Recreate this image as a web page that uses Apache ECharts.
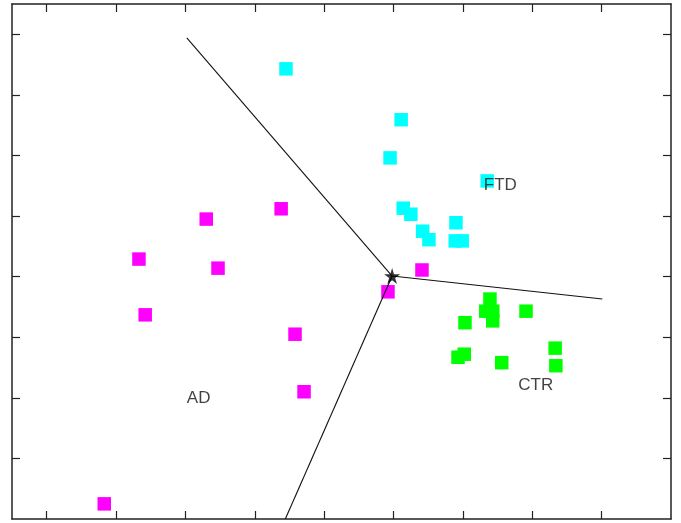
<!DOCTYPE html>
<html>
<head>
<meta charset="utf-8">
<script src="https://cdn.jsdelivr.net/npm/echarts@6/dist/echarts.min.js"></script>
<style>html,body{margin:0;padding:0;background:#fff;}#c{width:681px;height:523px;}</style>
</head>
<body>
<div id="c"></div>
<script>
const xTicks = [0, 1, 2, 3, 4, 5, 6, 7, 8];
const yTicks = [1, 2, 3, 4, 5, 6, 7, 8];

const ftdPoints = [
  [3.45, 7.43], [5.11, 6.59], [4.95, 5.96], [5.14, 5.13], [5.25, 5.03],
  [5.42, 4.75], [5.51, 4.61], [5.90, 4.89], [5.89, 4.59], [5.99, 4.59],
  [6.35, 5.58]
];
const ctrPoints = [
  [6.39, 3.63], [6.33, 3.43], [6.43, 3.43], [6.43, 3.27], [6.03, 3.24],
  [6.91, 3.43], [6.02, 2.72], [5.93, 2.67], [6.56, 2.58], [7.33, 2.82],
  [7.34, 2.53]
];
const adPoints = [
  [2.30, 4.95], [3.38, 5.12], [1.33, 4.29], [2.47, 4.14], [1.42, 3.37],
  [3.58, 3.05], [3.71, 2.10], [5.41, 4.11], [4.92, 3.75], [0.83, 0.25]
];
const center = [4.98, 4.01];
const boundaryEnds = [[2.02, 7.94], [8.01, 3.63], [3.44, 0]];
const classLabels = [
  { name: 'FTD', value: [6.54, 5.50] },
  { name: 'AD', value: [2.19, 2.00] },
  { name: 'CTR', value: [7.05, 2.20] }
];

const chart = echarts.init(document.getElementById('c'), null, { renderer: 'canvas' });

const frameLine = { show: true, onZero: false, lineStyle: { color: '#222', width: 1.5 } };
function xAx(pos) {
  return {
    type: 'value', position: pos, min: -0.5, max: 9,
    axisLine: frameLine,
    axisTick: { show: true, inside: true, length: 8, customValues: xTicks, lineStyle: { color: '#222', width: 1.2 } },
    axisLabel: { show: false, customValues: xTicks },
    splitLine: { show: false }
  };
}
function yAx(pos) {
  return {
    type: 'value', position: pos, min: 0, max: 8.5,
    axisLine: frameLine,
    axisTick: { show: true, inside: true, length: 8, customValues: yTicks, lineStyle: { color: '#222', width: 1.2 } },
    axisLabel: { show: false, customValues: yTicks },
    splitLine: { show: false }
  };
}

const sq = 13.5;
const series = [
  { type: 'scatter', data: ftdPoints, symbol: 'rect', symbolSize: sq, itemStyle: { color: '#00FFFF', opacity: 1 }, z: 2, silent: true },
  { type: 'scatter', data: ctrPoints, symbol: 'rect', symbolSize: sq, itemStyle: { color: '#00FF00', opacity: 1 }, z: 2, silent: true },
  { type: 'scatter', data: adPoints, symbol: 'rect', symbolSize: sq, itemStyle: { color: '#FF00FF', opacity: 1 }, z: 2, silent: true }
];
boundaryEnds.forEach(function (e) {
  series.push({
    type: 'line', data: [center, e], symbol: 'none', z: 3, silent: true,
    lineStyle: { color: '#111', width: 1.1 }
  });
});
series.push({
  type: 'scatter', data: [center], z: 4, silent: true,
  symbol: 'path://M50,0 L61,35 L98,35 L68,57 L79,91 L50,70 L21,91 L32,57 L2,35 L39,35 Z',
  symbolSize: 16, itemStyle: { color: '#000' }
});
series.push({
  type: 'scatter', data: classLabels, symbolSize: 0, z: 5, silent: true,
  label: {
    show: true, position: 'inside', formatter: '{b}',
    fontFamily: 'Liberation Sans, Arial, sans-serif', fontSize: 17, color: '#111'
  }
});

chart.setOption({
  animation: false,
  backgroundColor: '#fff',
  grid: { left: 12, right: 10, top: 4, bottom: 4, containLabel: false },
  xAxis: [xAx('bottom'), xAx('top')],
  yAxis: [yAx('left'), yAx('right')],
  series: series
});
</script>
</body>
</html>
